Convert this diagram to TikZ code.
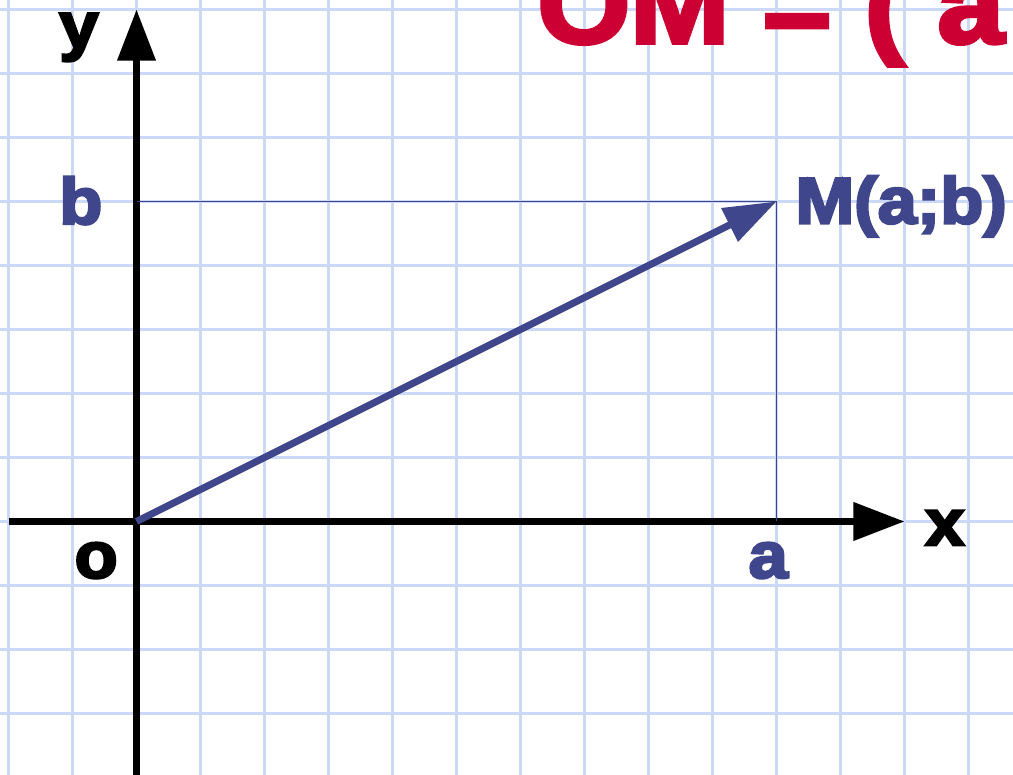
\documentclass[tikz,border=0pt]{standalone}
\usepackage{fontspec}
\newfontfamily\grasfont{Liberation Sans}[UprightFont={* Bold},FakeBold=4,FakeStretch=1.08]
\usetikzlibrary{arrows.meta}
\definecolor{bleuvect}{RGB}{64,70,140}
\definecolor{rougetitre}{RGB}{204,0,51}
\definecolor{bleugrille}{RGB}{204,216,248}

\begin{document}
\begin{tikzpicture}
        \tikzstyle {grille} = [draw=bleugrille, line width=0.04cm]
        \tikzstyle {axe} = [draw=black, line width=0.11cm, -{Triangle[length=0.8cm,width=0.58cm]}]
        \tikzstyle {vecteur} = [draw=bleuvect, line width=0.11cm, -{Triangle[length=0.82cm,width=0.56cm]}]
        \tikzstyle {repere} = [draw=bleuvect, line width=0.03cm]
        \tikzstyle {lettre} = [inner sep=0pt, anchor=base, font=\grasfont\fontsize{29}{30}\selectfont]
        \useasboundingbox (-2.133,-3.961) rectangle (13.695,8.148);
        \clip (-2.133,-3.961) rectangle (13.695,8.148);
        % Quadrillage
        \draw[grille] (-2.5,-4.5) grid (14.5,8.5);
        % Titre
        \node (titre) at (6.26,7.48) [inner sep=0pt, anchor=base west, color=rougetitre, font=\grasfont\fontsize{49}{50}\selectfont]{OM = ( a};
        % Axes
        \coordinate (origine) at (0,0);
        \coordinate (debut_x) at (-2,0);
        \coordinate (fin_x) at (12,0);
        \coordinate (debut_y) at (0,-4.2);
        \coordinate (fin_y) at (0,8);
        \draw[axe] (debut_x) -- (fin_x);
        \draw[axe] (debut_y) -- (fin_y);
        \node (label_x) at (12.63,-0.37) [lettre]{x};
        \node (label_y) at (-0.9,7.4) [lettre]{y};
        \node (label_o) at (-0.63,-0.88) [lettre]{o};
        % Point M
        \coordinate (M) at (10,5);
        \coordinate (proj_a) at (M |- origine);
        \coordinate (proj_b) at (M -| origine);
        \draw[repere] (proj_b) -- (M) -- (proj_a);
        \draw[vecteur] (origine) -- (M);
        \node (label_a) at (9.87,-0.88) [lettre, color=bleuvect]{a};
        \node (label_b) at (-0.87,4.65) [lettre, color=bleuvect]{b};
        \node (label_M) at (10.29,4.66) [lettre, anchor=base west, color=bleuvect]{M(a;b)};
\end{tikzpicture}
\end{document}
